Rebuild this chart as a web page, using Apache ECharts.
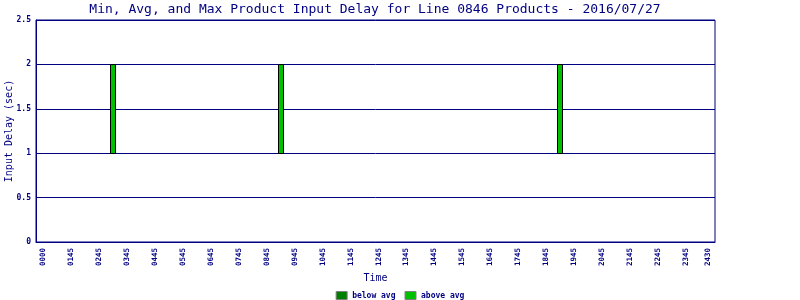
<!DOCTYPE html>
<html><head><meta charset="utf-8">
<script src="https://cdn.jsdelivr.net/npm/echarts@6/dist/echarts.min.js"></script>
<style>html,body{margin:0;padding:0;background:#fff}#c{width:800px;height:300px}</style>
</head><body><div id="c"></div>
<script>
// Tick positions along the time index axis and their labels
var tickPositions = [0,1,2,3,4,5,6,7,8,9,10,11,12,13,14,15,16,17,18,19,20,21,22,23,23.8];
var tickLabels = ["0000","0145","0245","0345","0445","0545","0645","0745","0845","0945","1045","1145","1245","1345","1445","1545","1645","1745","1845","1945","2045","2145","2245","2345","2430"];
// Bar positions (time index) and delays (sec)
var barTimes = [2.5, 8.5, 18.5];
var minDelay = [1, 1, 1];
var avgDelay = [1, 1, 1];
var maxDelay = [2, 2, 2];

var navy = '#000080';
var font = 'DejaVu Sans Mono';
var belowData = barTimes.map(function(t,i){return [t, minDelay[i], avgDelay[i]];});
var aboveData = barTimes.map(function(t,i){return [t, avgDelay[i], maxDelay[i]];});

function barRender(fill){
  return function(params, api){
    var x = api.value(0), lo = api.value(1), hi = api.value(2);
    var p0 = api.coord([x, lo]);
    var p1 = api.coord([x, hi]);
    return {type:'rect',
      shape:{x:Math.round(p0[0]) - 2.5, y:Math.round(p1[1]) + 0.5, width:5, height:Math.round(p0[1]) - Math.round(p1[1])},
      style:{fill:fill, stroke:'#000', lineWidth:1}};
  };
}
function labelFor(v){
  for (var i=0;i<tickPositions.length;i++){ if (Math.abs(v - tickPositions[i]) < 1e-6) return tickLabels[i]; }
  return '';
}

var chart = echarts.init(document.getElementById('c'), null, {renderer:'canvas'});
chart.setOption({
  animation:false,
  backgroundColor:'#fff',
  title:{text:'Min, Avg, and Max Product Input Delay for Line 0846 Products - 2016/07/27',
    left:375, textAlign:'center', top:3, padding:0,
    textStyle:{color:navy, fontFamily:font, fontSize:13, fontWeight:'normal'}},
  grid:{left:36, right:85, top:20, bottom:58, containLabel:false, outerBoundsMode:'none',
    show:true, borderColor:navy, borderWidth:1, backgroundColor:'transparent'},
  legend:{top:291, left:'center', padding:0, itemWidth:11, itemHeight:8, itemGap:9,
    textStyle:{color:navy, fontFamily:font, fontSize:8, fontWeight:'bold'},
    data:[{name:'below avg', icon:'rect', itemStyle:{color:'#008000', borderColor:'#808080', borderWidth:1}},
          {name:'above avg', icon:'rect', itemStyle:{color:'#00c000', borderColor:'#808080', borderWidth:1}}]},
  xAxis:{type:'value', min:-0.26, max:24.04,
    name:'Time', nameLocation:'middle', nameGap:31, nameMoveOverlap:false,
    nameTextStyle:{color:navy, fontFamily:font, fontSize:10},
    axisLine:{show:true, onZero:false, lineStyle:{color:navy, width:1}},
    axisTick:{show:false},
    splitLine:{show:false},
    axisLabel:{customValues:tickPositions, rotate:90, margin:6, hideOverlap:false,
      color:navy, fontFamily:font, fontSize:7.5, fontWeight:'bold', formatter:labelFor}},
  yAxis:{type:'value', min:0, max:2.5, interval:0.5,
    name:'Input Delay (sec)', nameLocation:'middle', nameGap:22, nameMoveOverlap:false,
    nameTextStyle:{color:navy, fontFamily:font, fontSize:10},
    axisLine:{show:true, onZero:false, lineStyle:{color:navy, width:1}},
    axisTick:{show:false},
    splitLine:{show:true, lineStyle:{color:navy, width:1}},
    axisLabel:{margin:5, color:navy, fontFamily:font, fontSize:8, fontWeight:'bold',
      formatter:function(v){return String(v);}}},
  series:[
    {name:'below avg', type:'custom', data:belowData, encode:{x:0, y:[1,2]}, itemStyle:{color:'#008000'}, renderItem:barRender('#008000')},
    {name:'above avg', type:'custom', data:aboveData, encode:{x:0, y:[1,2]}, itemStyle:{color:'#00c000'}, renderItem:barRender('#00c000')}
  ]
});
</script></body></html>
